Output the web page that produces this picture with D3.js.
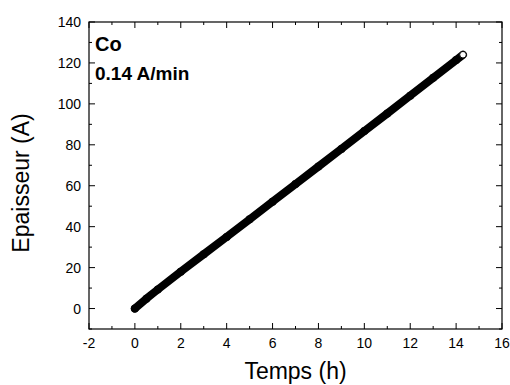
<!DOCTYPE html>
<html>
<head>
<meta charset="utf-8">
<script src="https://cdn.jsdelivr.net/npm/d3@7"></script>
<style>
body { margin: 0; background: #fff; }
text { font-family: "Liberation Sans", Arial, Helvetica, sans-serif; }
</style>
</head>
<body>
<svg id="chart" width="510" height="385"></svg>
<script>
// thickness vs time
var temps = [0, 0.5, 1, 2, 3, 4, 5, 6, 7, 8, 9, 10, 11, 12, 13, 14, 14.3];
var epaisseur = [0, 4.8, 9.3, 18, 26.5, 35, 43.6, 52.2, 60.8, 69.4, 78, 86.7, 95.3, 104, 112.7, 121.4, 124];
var xTicks = [-2, 0, 2, 4, 6, 8, 10, 12, 14, 16];
var yTicks = [0, 20, 40, 60, 80, 100, 120, 140];

var svg = d3.select("#chart");
var pLeft = 89, pRight = 502, pTop = 22, pBottom = 329;

var x = d3.scaleLinear().domain([-2, 16]).range([pLeft, pRight]);
var y = d3.scaleLinear().domain([-10, 140]).range([pBottom, pTop]);

var data = temps.map(function (t, i) { return {t: t, e: epaisseur[i]}; });

// frame
svg.append("rect")
    .attr("x", pLeft).attr("y", pTop)
    .attr("width", pRight - pLeft).attr("height", pBottom - pTop)
    .attr("fill", "none").attr("stroke", "#000").attr("stroke-width", 1.2);

// ticks, all pointing inward
var xMinor = d3.range(-2, 16.01, 1);
var yMinor = d3.range(-10, 140.01, 10);
var g = svg.append("g").attr("stroke", "#000").attr("stroke-width", 1);
xMinor.forEach(function (v) {
    var len = (v % 2 === 0) ? 6 : 3;
    g.append("line").attr("x1", x(v)).attr("x2", x(v)).attr("y1", pBottom).attr("y2", pBottom - len);
    g.append("line").attr("x1", x(v)).attr("x2", x(v)).attr("y1", pTop).attr("y2", pTop + len);
});
yMinor.forEach(function (v) {
    var len = (v % 20 === 0) ? 6 : 3;
    g.append("line").attr("y1", y(v)).attr("y2", y(v)).attr("x1", pLeft).attr("x2", pLeft + len);
    g.append("line").attr("y1", y(v)).attr("y2", y(v)).attr("x1", pRight).attr("x2", pRight - len);
});

svg.selectAll(".xl").data(xTicks).enter().append("text")
    .attr("x", function (d) { return x(d); })
    .attr("y", 348)
    .attr("text-anchor", "middle")
    .style("font-size", "14px")
    .text(function (d) { return d; });

svg.selectAll(".yl").data(yTicks).enter().append("text")
    .attr("x", 81)
    .attr("y", function (d) { return y(d) + 5; })
    .attr("text-anchor", "end")
    .style("font-size", "14px")
    .text(function (d) { return d; });

// dense markers, drawn as a thick band plus circles
var line = d3.line()
    .x(function (d) { return x(d.t); })
    .y(function (d) { return y(d.e); });

svg.append("path")
    .attr("d", line(data))
    .attr("fill", "none")
    .attr("stroke", "#000")
    .attr("stroke-width", 8)
    .attr("stroke-linecap", "round")
    .attr("stroke-linejoin", "round");

svg.selectAll(".pt").data(data.slice(0, -1)).enter().append("circle")
    .attr("cx", function (d) { return x(d.t); })
    .attr("cy", function (d) { return y(d.e); })
    .attr("r", 4)
    .attr("fill", "#000");

var last = data[data.length - 1];
svg.append("circle")
    .attr("cx", x(last.t)).attr("cy", y(last.e))
    .attr("r", 3.3)
    .attr("fill", "#fff")
    .attr("stroke", "#000")
    .attr("stroke-width", 1);

// labels
svg.append("text").attr("x", 95).attr("y", 51)
    .style("font-size", "20px").style("font-weight", "bold").text("Co");
svg.append("text").attr("x", 95).attr("y", 80)
    .style("font-size", "19px").style("font-weight", "bold").text("0.14 A/min");

svg.append("text")
    .attr("x", (pLeft + pRight) / 2).attr("y", 379)
    .attr("text-anchor", "middle")
    .style("font-size", "23px")
    .text("Temps (h)");

svg.append("text")
    .attr("transform", "translate(29," + 183 + ") rotate(-90)")
    .attr("text-anchor", "middle")
    .style("font-size", "23px")
    .text("Epaisseur (A)");
</script>
</body>
</html>
